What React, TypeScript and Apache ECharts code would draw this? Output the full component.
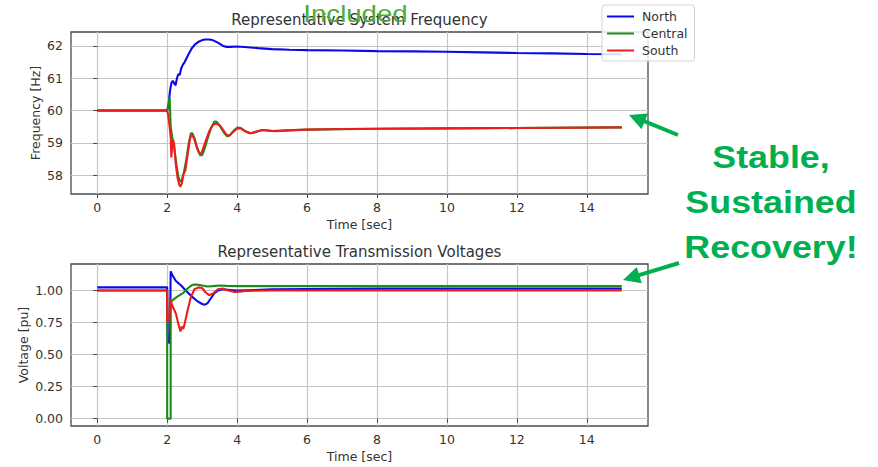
import React, { useEffect, useRef } from "react";
import * as echarts from "echarts";

// ---------- Data ----------
const timeTicks = [0, 2, 4, 6, 8, 10, 12, 14];
const freqTicks = [58, 59, 60, 61, 62];
const voltTicks = [0, 0.25, 0.5, 0.75, 1.0];
const seriesNames = ["North", "Central", "South"];

// Frequency [Hz]
const northFreqT = [0, 2.0, 2.04, 2.08, 2.12, 2.16, 2.2, 2.24, 2.28, 2.32, 2.36, 2.4, 2.45, 2.5, 2.6, 2.7, 2.8, 2.9, 3.0, 3.1, 3.2, 3.3, 3.45, 3.6, 3.7, 3.8, 4.0, 4.3, 4.6, 5.0, 5.5, 6, 7, 8, 9, 10, 11, 12, 13, 14, 15];
const northFreqV = [60, 60, 60.15, 60.6, 60.85, 60.92, 60.85, 60.78, 61.0, 61.13, 61.1, 61.3, 61.42, 61.5, 61.72, 61.92, 62.05, 62.13, 62.18, 62.2, 62.2, 62.18, 62.1, 62.0, 61.97, 61.97, 61.98, 61.96, 61.93, 61.9, 61.88, 61.87, 61.86, 61.84, 61.83, 61.82, 61.8, 61.78, 61.77, 61.75, 61.74];

const centralFreqT = [0, 2.0, 2.04, 2.07, 2.1, 2.14, 2.18, 2.22, 2.27, 2.32, 2.37, 2.42, 2.48, 2.55, 2.62, 2.68, 2.72, 2.78, 2.86, 2.94, 3.0, 3.08, 3.16, 3.25, 3.35, 3.42, 3.52, 3.62, 3.72, 3.8, 3.92, 4.02, 4.12, 4.25, 4.4, 4.55, 4.75, 5, 5.4, 6, 8, 10, 12, 15];
const centralFreqV = [60, 60, 60.2, 60.4, 59.5, 59.2, 59.0, 58.7, 58.3, 57.95, 57.8, 57.85, 58.1, 58.5, 59.0, 59.3, 59.3, 59.15, 58.85, 58.62, 58.62, 58.85, 59.15, 59.45, 59.66, 59.65, 59.5, 59.32, 59.2, 59.25, 59.4, 59.48, 59.45, 59.35, 59.3, 59.35, 59.4, 59.37, 59.39, 59.41, 59.44, 59.45, 59.46, 59.48];

const southFreqT = [0, 2.0, 2.03, 2.07, 2.1, 2.12, 2.14, 2.17, 2.2, 2.25, 2.3, 2.35, 2.38, 2.42, 2.47, 2.52, 2.58, 2.64, 2.68, 2.72, 2.78, 2.85, 2.92, 2.98, 3.05, 3.12, 3.2, 3.3, 3.4, 3.5, 3.6, 3.7, 3.78, 3.9, 4.0, 4.1, 4.2, 4.35, 4.5, 4.7, 4.9, 5.1, 5.4, 6, 7, 8, 10, 12, 15];
const southFreqV = [60, 60, 59.85, 59.5, 59.2, 58.55, 58.9, 59.1, 58.95, 58.3, 57.9, 57.7, 57.65, 57.75, 58.05, 58.15, 58.6, 59.05, 59.22, 59.25, 59.1, 58.85, 58.68, 58.68, 58.9, 59.12, 59.35, 59.55, 59.6, 59.55, 59.4, 59.25, 59.22, 59.35, 59.45, 59.45, 59.38, 59.3, 59.32, 59.4, 59.38, 59.36, 59.38, 59.41, 59.43, 59.44, 59.45, 59.46, 59.48];

// Voltage [pu]
const northVoltT = [0, 2.0, 2.02, 2.08, 2.1, 2.15, 2.25, 2.4, 2.55, 2.7, 2.85, 3.0, 3.08, 3.15, 3.25, 3.35, 3.45, 3.6, 3.8, 4.0, 4.5, 5, 6, 8, 10, 15];
const northVoltV = [1.025, 1.025, 0.6, 0.59, 1.15, 1.12, 1.075, 1.04, 0.995, 0.955, 0.92, 0.895, 0.89, 0.9, 0.94, 0.98, 1.0, 1.01, 1.005, 1.0, 1.005, 1.01, 1.012, 1.015, 1.015, 1.015];

const centralVoltT = [0, 2.0, 2.0, 2.1, 2.1, 2.2, 2.3, 2.45, 2.6, 2.72, 2.85, 3.0, 3.15, 3.3, 3.5, 3.7, 4.0, 5, 6, 15];
const centralVoltV = [1.0, 1.0, 0.0, 0.0, 0.91, 0.935, 0.955, 0.98, 1.02, 1.045, 1.048, 1.04, 1.032, 1.035, 1.04, 1.037, 1.035, 1.035, 1.035, 1.035];

const southVoltT = [0, 2.0, 2.0, 2.06, 2.09, 2.15, 2.25, 2.32, 2.38, 2.42, 2.46, 2.5, 2.58, 2.68, 2.78, 2.9, 3.0, 3.1, 3.2, 3.3, 3.45, 3.6, 3.75, 3.9, 4.0, 4.3, 5, 6, 15];
const southVoltV = [1.0, 1.0, 0.76, 0.76, 0.93, 0.88, 0.82, 0.74, 0.68, 0.72, 0.7, 0.74, 0.84, 0.95, 1.01, 1.025, 1.02, 0.985, 0.965, 0.975, 1.01, 1.015, 1.0, 0.99, 0.99, 0.998, 1.0, 1.0, 1.0];

const annotationLines = ["Stable,", "Sustained", "Recovery!"];

// ---------- Styling ----------
const COLORS = ["#0a0ae8", "#1a8c1a", "#ee1c1c"];
const FONT = "DejaVu Sans";
const TXT = "#333";

const zip = (t: number[], v: number[]) => t.map((x, i) => [x, v[i]]);

function arrowGraphics(tail: number[], tip: number[], color: string) {
  const dx = tip[0] - tail[0];
  const dy = tip[1] - tail[1];
  const len = Math.hypot(dx, dy);
  const ux = dx / len, uy = dy / len;
  const headLen = 17, halfW = 8.5;
  const bx = tip[0] - headLen * ux, by = tip[1] - headLen * uy;
  const nx = -uy, ny = ux;
  return [
    {
      type: "line",
      shape: { x1: tail[0], y1: tail[1], x2: bx + ux * 2, y2: by + uy * 2 },
      style: { stroke: color, lineWidth: 4 },
      z: 100,
    },
    {
      type: "polygon",
      shape: {
        points: [
          [tip[0], tip[1]],
          [bx + halfW * nx, by + halfW * ny],
          [bx - halfW * nx, by - halfW * ny],
        ],
      },
      style: { fill: color },
      z: 100,
    },
  ];
}

function makeXAxis(gridIndex: number) {
  return {
    type: "value",
    gridIndex,
    min: -0.75,
    max: 15.75,
    name: "Time [sec]",
    nameLocation: "middle",
    nameGap: 24,
    nameMoveOverlap: false,
    nameTextStyle: { fontFamily: FONT, fontSize: 12.5, color: TXT },
    axisLine: { show: false },
    axisTick: { show: true, length: 4, customValues: timeTicks, lineStyle: { color: "#444" } },
    axisLabel: { customValues: timeTicks, fontFamily: FONT, fontSize: 12.5, color: TXT, margin: 7 },
    splitLine: { show: true, lineStyle: { color: "#c6c6c6", width: 1.2 } },
  };
}

function makeYAxis(gridIndex: number, min: number, max: number, ticks: number[], name: string, gap: number, fmt: (v: number) => string) {
  return {
    type: "value",
    gridIndex,
    min,
    max,
    name,
    nameLocation: "middle",
    nameGap: gap,
    nameMoveOverlap: false,
    nameTextStyle: { fontFamily: FONT, fontSize: 12.5, color: TXT },
    axisLine: { show: false },
    axisTick: { show: true, length: 4, customValues: ticks, lineStyle: { color: "#444" } },
    axisLabel: { customValues: ticks, fontFamily: FONT, fontSize: 12.5, color: TXT, margin: 8, formatter: fmt },
    splitLine: { show: true, lineStyle: { color: "#c6c6c6", width: 1.2 } },
  };
}

function lineSeries(name: string, color: string, xi: number, t: number[], v: number[]) {
  return {
    type: "line",
    name,
    xAxisIndex: xi,
    yAxisIndex: xi,
    data: zip(t, v),
    symbol: "none",
    showSymbol: false,
    color,
    lineStyle: { color, width: 2.1 },
    emphasis: { disabled: true },
  };
}

export default function App() {
  const ref = useRef<HTMLDivElement>(null);

  useEffect(() => {
    document.body.style.margin = "0";
    if (!ref.current) return;
    const chart = echarts.init(ref.current, undefined, { renderer: "svg" });

    const annotationTexts = annotationLines.map((line, i) => ({
      type: "text",
      x: 771,
      y: 157 + i * 45,
      scaleX: 1.12,
      z: 100,
      style: {
        text: line,
        fill: "#00b050",
        font: "bold 32px 'Liberation Sans', Arial, sans-serif",
        textAlign: "center",
        textVerticalAlign: "middle",
      },
    }));

    const option = {
      animation: false,
      backgroundColor: "#ffffff",
      grid: [
        { left: 71, top: 32, width: 577, height: 162, show: true, borderColor: "#4a4a4a", borderWidth: 1.3, backgroundColor: "transparent" },
        { left: 71, top: 264, width: 577, height: 162, show: true, borderColor: "#4a4a4a", borderWidth: 1.3, backgroundColor: "transparent" },
      ],
      xAxis: [makeXAxis(0), makeXAxis(1)],
      yAxis: [
        makeYAxis(0, 57.42, 62.43, freqTicks, "Frequency [Hz]", 29, (v: number) => String(v)),
        makeYAxis(1, -0.0575, 1.2075, voltTicks, "Voltage [pu]", 41, (v: number) => v.toFixed(2)),
      ],
      legend: {
        data: seriesNames,
        orient: "vertical",
        left: 602,
        top: 5,
        padding: [5, 7, 4, 5],
        itemGap: 4,
        itemWidth: 27,
        itemHeight: 2,
        icon: "rect",
        backgroundColor: "rgba(255,255,255,0.85)",
        borderColor: "#d4d4d4",
        borderWidth: 1,
        borderRadius: 3,
        selectedMode: false,
        textStyle: { fontFamily: FONT, fontSize: 12.5, color: TXT, padding: [0, 0, 0, 3] },
      },
      series: [
        lineSeries("North", COLORS[0], 0, northFreqT, northFreqV),
        lineSeries("Central", COLORS[1], 0, centralFreqT, centralFreqV),
        lineSeries("South", COLORS[2], 0, southFreqT, southFreqV),
        lineSeries("North", COLORS[0], 1, northVoltT, northVoltV),
        lineSeries("Central", COLORS[1], 1, centralVoltT, centralVoltV),
        lineSeries("South", COLORS[2], 1, southVoltT, southVoltV),
      ],
      graphic: [
        {
          type: "text",
          x: 359.5,
          y: 19.5,
          z: 50,
          style: { text: "Representative System Frequency", fill: TXT, font: `15px '${FONT}'`, textAlign: "center", textVerticalAlign: "middle" },
        },
        {
          type: "text",
          x: 359.5,
          y: 251.5,
          z: 50,
          style: { text: "Representative Transmission Voltages", fill: TXT, font: `15px '${FONT}'`, textAlign: "center", textVerticalAlign: "middle" },
        },
        {
          type: "text",
          x: 355.5,
          y: 13.5,
          scaleX: 1.2,
          z: 100,
          style: { text: "Included", fill: "#4cae33", font: "23px 'Liberation Sans', Arial, sans-serif", textAlign: "center", textVerticalAlign: "middle" },
        },
        ...annotationTexts,
        ...arrowGraphics([678, 135], [629, 115], "#00b050"),
        ...arrowGraphics([679, 263], [623, 280], "#00b050"),
      ],
    };

    chart.setOption(option as any);
    return () => chart.dispose();
  }, []);

  return <div ref={ref} style={{ width: 878, height: 467 }} />;
}
